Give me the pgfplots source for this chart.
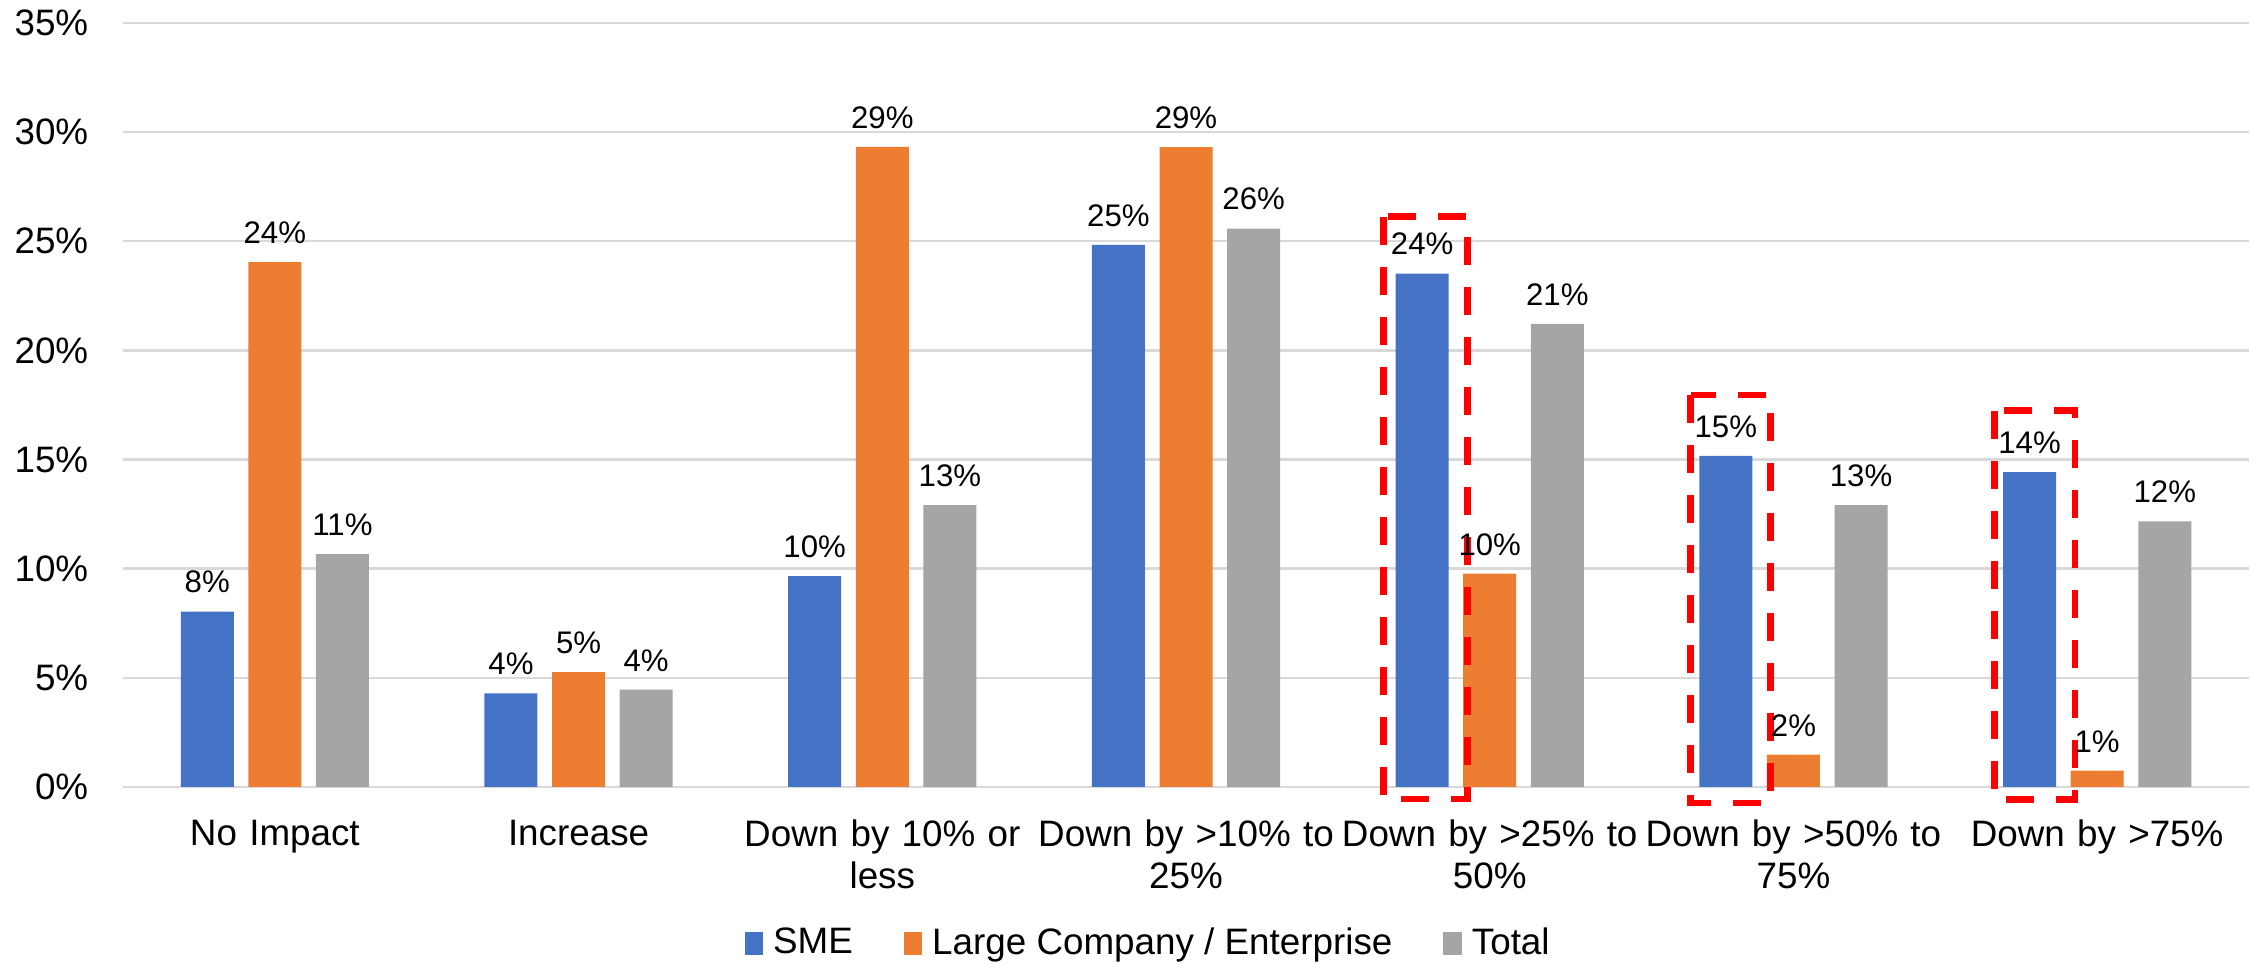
\documentclass[border=0pt]{standalone}
\usepackage{fontspec}
\setmainfont{Liberation Sans}
\usepackage{pgfplots}
\usepackage{pgfplotstable}
\pgfplotsset{compat=1.18}
\definecolor{cblue}{HTML}{4472C4}
\definecolor{corange}{HTML}{ED7D31}
\definecolor{cgray}{HTML}{A5A5A5}
\definecolor{gridc}{HTML}{D9D9D9}

\pgfplotstableread{
x sme smel large largel total totall
0 8.03 8 24.04 24 10.67 11
1 4.29 4 5.26 5 4.46 4
2 9.66 10 29.32 29 12.91 13
3 24.83 25 29.31 29 25.58 26
4 23.52 24 9.77 10 21.22 21
5 15.17 15 1.48 2 12.91 13
6 14.42 14 0.75 1 12.17 12
}\datatable

\begin{document}
\begin{tikzpicture}
\begin{axis}[
 scale only axis, width=531.5pt, height=191pt,
 xmin=-0.5, xmax=6.5, ymin=0, ymax=35,
 ybar=3.65pt, bar width=13.25pt,
 ytick={0,5,...,35},
 yticklabel={\pgfmathprintnumber{\tick}\%},
 /pgf/number format/assume math mode=true,
 xtick=data,
 xticklabels={{No Impact},{Increase},{Down by 10\% or\\less},{Down by >10\% to\\25\%},{Down by >25\% to\\50\%},{Down by >50\% to\\75\%},{Down by >75\%}},
 ymajorgrids, grid style={gridc, line width=0.6pt},
 axis x line*=bottom, axis y line*=left,
 y axis line style={draw=none},
 x axis line style={draw=gridc, line width=0.6pt},
 major tick length=0pt,
 tick label style={font=\fontsize{9.2}{10.5}\selectfont, text=black},
 xticklabel style={text width=78pt, align=center, anchor=north, inner sep=0pt, yshift=-8pt},
 yticklabel style={anchor=east, inner sep=0pt, xshift=-8.5pt},
 nodes near coords={\pgfplotspointmeta\%},
 point meta=explicit symbolic,
 every node near coord/.append style={font=\fontsize{7.8}{9}\selectfont, inner sep=0pt, yshift=4.4pt, anchor=south, text=black},
 legend style={at={(0.4817,-0.2055)}, anchor=center, draw=none, legend columns=3,
   font=\fontsize{9.2}{11}\selectfont, nodes={inner sep=0pt},
   /tikz/every odd column/.append style={column sep=2.5pt},
   /tikz/every even column/.append style={column sep=12.75pt}},
 legend image code/.code={\fill[#1] (0pt,-0.28em) rectangle (4.6pt,0.3em);},
 clip=false,
]
\addplot[fill=cblue, draw=none] table[x=x,y=sme,meta=smel]{\datatable};
\addplot[fill=corange, draw=none] table[x=x,y=large,meta=largel]{\datatable};
\addplot[fill=cgray, draw=none] table[x=x,y=total,meta=totall]{\datatable};
\legend{SME, Large Company / Enterprise, Total}
\draw[red, line width=1.7pt, dash pattern=on 7pt off 5.5pt] (axis cs:3.649,26.12) rectangle (axis cs:3.926,-0.55);
\draw[red, line width=1.7pt, dash pattern=on 7pt off 5.5pt] (axis cs:4.662,17.96) rectangle (axis cs:4.925,-0.73);
\draw[red, line width=1.7pt, dash pattern=on 7pt off 5.5pt] (axis cs:5.661,17.23) rectangle (axis cs:5.927,-0.56);
\coordinate (BL) at (rel axis cs:-0.05786,-0.23298);
\coordinate (TR) at (rel axis cs:1.00188,1.03010);
\end{axis}
\pgfresetboundingbox
\path[use as bounding box] (BL) rectangle (TR);
\end{tikzpicture}
\end{document}
